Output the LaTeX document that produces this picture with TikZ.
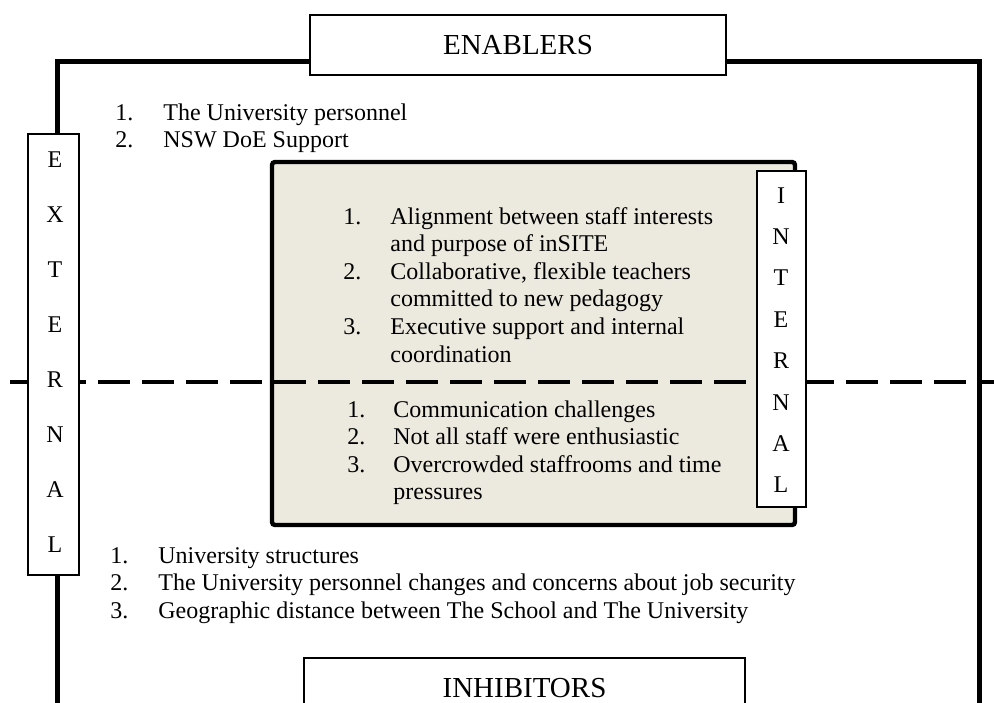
\documentclass[tikz,border=0pt]{standalone}
\usepackage{fontspec}
\setmainfont{Liberation Serif}
\usepackage{array}
\usepackage{tikz}
\definecolor{panel_fill}{RGB}{236, 233, 223}
\newcolumntype{W}{>{\raggedright\arraybackslash}p{168pt}}

\begin{document}
\begin{tikzpicture}[x=0.5pt, y=-0.5pt,
  frame/.style={line width=2.5pt},
  title_box/.style={draw, fill=white, line width=0.6pt, minimum width=#1,
    minimum height=30pt, inner sep=0pt, font=\fontsize{14.5}{17}\selectfont},
  side_box/.style={draw, fill=white, line width=0.6pt, minimum height=#1,
    inner sep=0pt},
  letter/.style={anchor=base, inner sep=0pt, font=\fontsize{12}{14}\selectfont},
  item_list/.style={anchor=base west, inner sep=0pt,
    font=\fontsize{12}{13.8}\selectfont}]
\useasboundingbox (0,0) rectangle (994,702);
\clip (0,0) rectangle (994,702);

% outer frame and internal panel
\draw[frame] (57,61) rectangle (979,760);
\draw[line width=2.2pt, fill=panel_fill, rounded corners=1.5pt] (272,162) rectangle (795,525);
\draw[line width=1.75pt, dash pattern=on 16pt off 6pt] (10,382) -- (994,382);

% headings
\node[title_box=208pt] (enablers) at (518,45) {ENABLERS};
\node[title_box=220.5pt] (inhibitors) at (524.5,688) {INHIBITORS};

% side labels
\node[side_box=220.5pt, minimum width=25.5pt] (external) at (53.5,354.5) {};
\node[side_box=168pt, minimum width=24.5pt] (internal) at (781.5,339) {};
\foreach \ch [count=\i from 0] in {E,X,T,E,R,N,A,L}
  \node[letter] (ext_\i) at (55,167+55*\i) {\ch};
\foreach \ch [count=\i from 0] in {I,N,T,E,R,N,A,L}
  \node[letter] (int_\i) at (781,203+41.4*\i) {\ch};

% lists
\node[item_list] (ext_enablers) at (115,120) {%
  \begin{tabular}[t]{@{}p{24pt}@{}l@{}}
  1. & The University personnel\\
  2. & NSW DoE Support
  \end{tabular}};
\node[item_list] (int_enablers) at (343,224) {%
  \begin{tabular}[t]{@{}p{23.5pt}@{}W@{}}
  1. & Alignment between staff interests and purpose of inSITE\\
  2. & Collaborative, flexible teachers committed to new pedagogy\\
  3. & Executive support and internal coordination
  \end{tabular}};
\node[item_list] (int_inhibitors) at (347,417) {%
  \begin{tabular}[t]{@{}p{23pt}@{}W@{}}
  1. & Communication challenges\\
  2. & Not all staff were enthusiastic\\
  3. & Overcrowded staffrooms and time pressures
  \end{tabular}};
\node[item_list] (ext_inhibitors) at (110,563) {%
  \begin{tabular}[t]{@{}p{24pt}@{}l@{}}
  1. & University structures\\
  2. & The University personnel changes and concerns about job security\\
  3. & Geographic distance between The School and The University
  \end{tabular}};
\end{tikzpicture}
\end{document}
